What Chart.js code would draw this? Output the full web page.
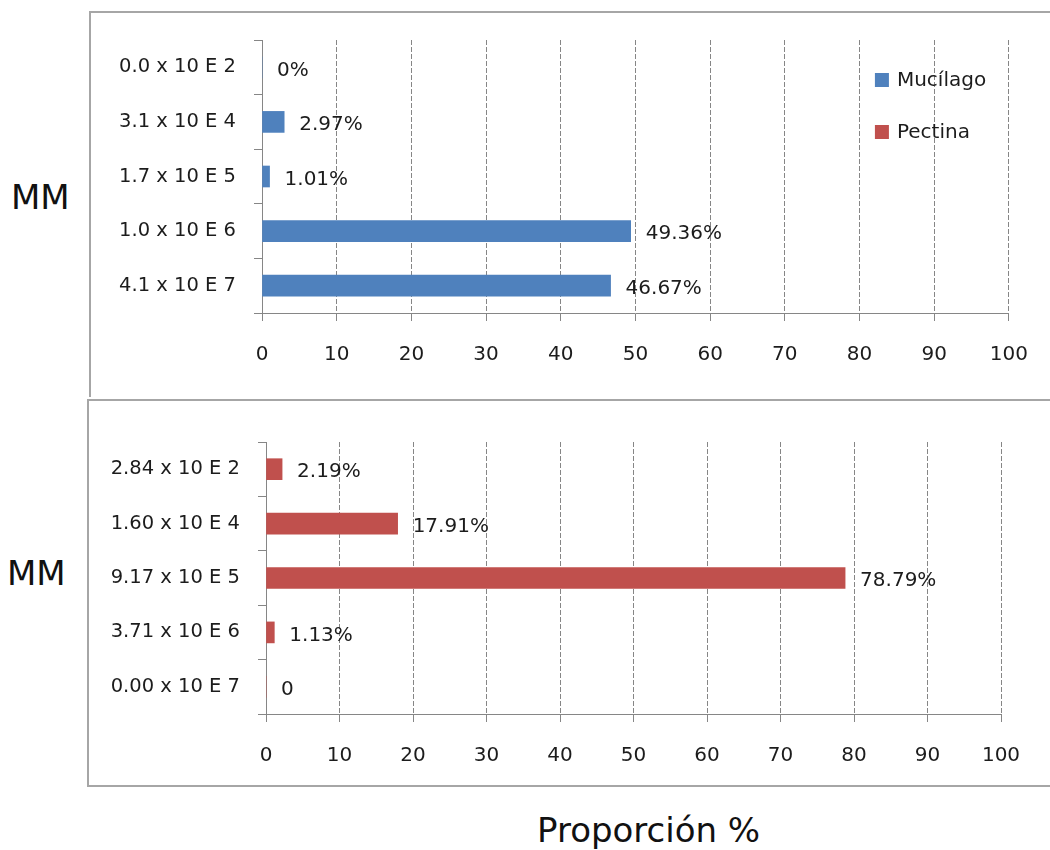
<!DOCTYPE html>
<html lang="es">
<head>
<meta charset="utf-8">
<title>Proporción por masa molecular</title>
<script src="https://cdn.jsdelivr.net/npm/chart.js@4.4.1/dist/chart.umd.min.js"></script>
<style>
  html, body { margin: 0; padding: 0; background: #ffffff; }
  body { width: 1050px; height: 850px; position: relative; overflow: hidden;
         font-family: "DejaVu Sans", sans-serif; color: #111; }
  .panel { position: absolute; border: 2px solid #a6a6a6; box-sizing: border-box; }
  #panelTop { left: 89px; top: 11px; width: 1000px; height: 386px; border-bottom: none; }
  #panelBottom { left: 87px; top: 399px; width: 1000px; height: 388px; }
  canvas { position: absolute; left: 0; }
  #chartTop { top: 0; }
  #chartBottom { top: 400px; }
  .mm { position: absolute; font-size: 34px; line-height: 40px; color: #111; }
  #mmTop { left: 11px; top: 177px; }
  #mmBottom { left: 7px; top: 553px; }
  #xTitle { position: absolute; left: 537px; top: 810px; font-size: 34px; line-height: 40px; color: #111; }
</style>
</head>
<body>
<div class="panel" id="panelTop"></div>
<div class="panel" id="panelBottom"></div>
<div class="mm" id="mmTop">MM</div>
<div class="mm" id="mmBottom">MM</div>
<div id="xTitle">Proporción %</div>
<canvas id="chartTop" width="1050" height="400"></canvas>
<canvas id="chartBottom" width="1050" height="390"></canvas>

<script>
// ---- data ----
const seriesNames = ['Mucílago', 'Pectina'];

const mucilagoSizes  = ['0.0 x 10 E 2', '3.1 x 10 E 4', '1.7 x 10 E 5', '1.0 x 10 E 6', '4.1 x 10 E 7'];
const mucilagoValues = [0, 2.97, 1.01, 49.36, 46.67];

const pectinaSizes  = ['2.84 x 10 E 2', '1.60 x 10 E 4', '9.17 x 10 E 5', '3.71 x 10 E 6', '0.00 x 10 E 7'];
const pectinaValues = [2.19, 17.91, 78.79, 1.13, 0];

const percentTicks = [0, 10, 20, 30, 40, 50, 60, 70, 80, 90, 100];

// ---- styles ----
const seriesColors = ['#4f81bd', '#c0504d'];
const AXIS = '#868686';
const TEXT = '#1c1c1c';
const FAMILY = '"DejaVu Sans", sans-serif';
const CAT_FONT = { family: FAMILY, size: 19.5 };
const NUM_FONT = { family: FAMILY, size: 20 };

// Percentage written just past the end of each bar
const valueLabels = {
  id: 'valueLabels',
  afterDatasetsDraw(chart, args, opts) {
    const ctx = chart.ctx;
    ctx.save();
    ctx.font = `${NUM_FONT.size}px ${FAMILY}`;
    ctx.fillStyle = TEXT;
    ctx.textAlign = 'left';
    ctx.textBaseline = 'middle';
    chart.data.datasets.forEach((ds, i) => {
      const meta = chart.getDatasetMeta(i);
      meta.data.forEach((bar, j) => {
        const v = ds.data[j];
        if (v == null) return;
        const text = v === 0 ? opts.zeroText : v.toFixed(2) + '%';
        ctx.fillText(text, bar.x + opts.offset, bar.y + opts.dy);
      });
    });
    ctx.restore();
  }
};

// Series key drawn in the upper right corner of the plot
const cornerLegend = {
  id: 'cornerLegend',
  afterDraw(chart, args, opts) {
    if (!opts.items) return;
    const ctx = chart.ctx;
    const { right, top } = chart.chartArea;
    ctx.save();
    ctx.font = `${NUM_FONT.size}px ${FAMILY}`;
    ctx.textAlign = 'left';
    ctx.textBaseline = 'middle';
    opts.items.forEach((it, k) => {
      const x = right - opts.fromRight;
      const cy = top + opts.firstY + k * opts.gap;
      ctx.fillStyle = it.color;
      ctx.fillRect(x, cy - 7, 14, 14);
      ctx.fillStyle = TEXT;
      ctx.fillText(it.label, x + 22, cy + 1);
    });
    ctx.restore();
  }
};

function makeChart(canvasId, labels, values, color, name, layout, extra) {
  return new Chart(document.getElementById(canvasId), {
    type: 'bar',
    data: {
      labels: labels,
      datasets: [{
        label: name,
        data: values,
        backgroundColor: color,
        borderWidth: 0,
        barThickness: 21
      }]
    },
    options: {
      indexAxis: 'y',
      responsive: false,
      animation: false,
      events: [],
      layout: { padding: layout.padding },
      plugins: {
        legend: { display: false },
        tooltip: { enabled: false },
        valueLabels: { zeroText: extra.zeroText, offset: 15, dy: 3 },
        cornerLegend: extra.legend || {}
      },
      scales: {
        x: {
          type: 'linear',
          min: 0,
          max: 100,
          afterBuildTicks(scale) { scale.ticks = percentTicks.map(v => ({ value: v })); },
          afterFit(scale) { scale.height = 60; },
          ticks: { color: TEXT, font: NUM_FONT, padding: 22 },
          grid: {
            color: c => (c.tick && c.tick.value === 0) ? 'rgba(0,0,0,0)' : AXIS,
            tickColor: AXIS,
            tickLength: 8,
            lineWidth: 1
          },
          border: { display: true, color: AXIS, width: 1, dash: [5, 2] }
        },
        y: {
          type: 'category',
          afterFit(scale) { scale.width = layout.yWidth; },
          ticks: { color: TEXT, font: CAT_FONT, padding: 18 },
          grid: {
            drawOnChartArea: false,
            offset: true,
            tickLength: 8,
            color: AXIS,
            tickColor: AXIS
          },
          border: { display: true, color: AXIS, width: 1 }
        }
      }
    },
    plugins: [valueLabels, cornerLegend]
  });
}

makeChart('chartTop', mucilagoSizes, mucilagoValues, seriesColors[0], seriesNames[0],
  { padding: { left: 100, top: 40, right: 39, bottom: 27 }, yWidth: 162 },
  {
    zeroText: '0%',
    legend: {
      fromRight: 134, firstY: 40, gap: 52,
      items: seriesNames.map((n, i) => ({ label: n, color: seriesColors[i] }))
    }
  });

makeChart('chartBottom', pectinaSizes, pectinaValues, seriesColors[1], seriesNames[1],
  { padding: { left: 100, top: 42, right: 49, bottom: 16 }, yWidth: 166 },
  { zeroText: '0' });
</script>
</body>
</html>
